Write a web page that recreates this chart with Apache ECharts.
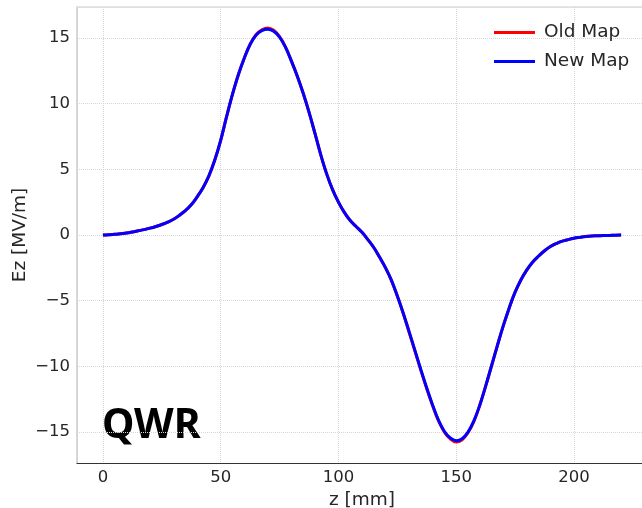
<!DOCTYPE html>
<html><head><meta charset="utf-8">
<script src="https://cdn.jsdelivr.net/npm/echarts@6/dist/echarts.min.js"></script>
<style>html,body{margin:0;padding:0;background:#fff}#c{width:642px;height:508px}</style>
</head><body><div id="c"></div>
<script>
const zValues = [0,2.5,5,7.5,10,12.5,15,17.5,20,22.5,25,27.5,30,32.5,35,37.5,40,42.5,45,47.5,50,52.5,55,57.5,60,62.5,65,67.5,70,72.5,75,77.5,80,82.5,85,87.5,90,92.5,95,97.5,100,102.5,105,107.5,110,112.5,115,117.5,120,122.5,125,127.5,130,132.5,135,137.5,140,142.5,145,147.5,150,152.5,155,157.5,160,162.5,165,167.5,170,172.5,175,177.5,180,182.5,185,187.5,190,192.5,195,197.5,200,202.5,205,207.5,210,212.5,215,217.5,220];
const newMap = [0,0.02,0.05,0.1,0.15,0.23,0.32,0.41,0.52,0.65,0.8,0.98,1.2,1.5,1.85,2.3,2.9,3.6,4.5,5.7,7.2,9.0,10.7,12.2,13.45,14.5,15.2,15.55,15.65,15.5,15.05,14.3,13.25,12.1,10.8,9.35,7.75,6.1,4.65,3.45,2.5,1.72,1.1,0.65,0.2,-0.35,-0.95,-1.7,-2.5,-3.45,-4.65,-5.95,-7.35,-8.8,-10.25,-11.65,-12.95,-14.1,-14.95,-15.45,-15.65,-15.5,-15.0,-14.15,-12.95,-11.5,-9.95,-8.4,-6.9,-5.55,-4.35,-3.4,-2.65,-2.05,-1.6,-1.2,-0.88,-0.65,-0.47,-0.35,-0.25,-0.18,-0.12,-0.08,-0.06,-0.04,-0.03,-0.01,0];
const oldMap = [0,0.02,0.05,0.1,0.15,0.23,0.32,0.41,0.52,0.65,0.8,0.98,1.2,1.5,1.85,2.3,2.9,3.6,4.5,5.7,7.2,9.0,10.7,12.2,13.45,14.52,15.25,15.62,15.76,15.58,15.1,14.32,13.25,12.1,10.8,9.35,7.75,6.1,4.65,3.45,2.5,1.72,1.1,0.65,0.2,-0.35,-0.95,-1.7,-2.5,-3.45,-4.65,-5.95,-7.4,-8.85,-10.3,-11.7,-13.0,-14.15,-15.0,-15.52,-15.76,-15.58,-15.05,-14.18,-12.95,-11.5,-9.95,-8.4,-6.9,-5.55,-4.35,-3.4,-2.65,-2.05,-1.6,-1.2,-0.88,-0.65,-0.47,-0.35,-0.25,-0.18,-0.12,-0.08,-0.06,-0.04,-0.03,-0.01,0];
const xTicks = [0,50,100,150,200];
const yTicks = [-15,-10,-5,0,5,10,15];
const seriesNames = ['Old Map','New Map'];
const annotation = 'QWR';

const chart = echarts.init(document.getElementById('c'), null, {renderer:'canvas'});
const font = 'DejaVu Sans';
const fmt = (ticks) => (v) => ticks.includes(Math.round(v*1000)/1000) && Math.abs(v - Math.round(v)) < 1e-6 ? String(Math.round(v)).replace('-', '\u2212') : '';
const pairs = (arr) => zValues.map((z,i) => [z, arr[i]]);

chart.setOption({
  animation: false,
  backgroundColor: '#fff',
  grid: {left: 77, right: -5, top: 7, bottom: 45, containLabel: false, outerBoundsMode: 'none'},
  legend: {
    orient: 'vertical', left: 489, top: 18, itemGap: 10,
    itemWidth: 41, itemHeight: 3,
    textStyle: {fontFamily: font, fontSize: 18.5, color: '#262626', padding: [0,0,0,4]},
    data: [{name: seriesNames[0], icon: 'rect'}, {name: seriesNames[1], icon: 'rect'}]
  },
  xAxis: [{
    type: 'value', min: -11, max: 231, splitNumber: 5,
    name: 'z [mm]', nameLocation: 'middle', nameGap: 24,
    nameTextStyle: {fontFamily: font, fontSize: 18.5, color: '#262626'},
    axisLine: {show: true, onZero: false, lineStyle: {color: '#333', width: 1.2}},
    axisTick: {show: false},
    axisLabel: {fontFamily: font, fontSize: 16.5, color: '#262626', margin: 6, formatter: fmt(xTicks)},
    splitLine: {show: true, lineStyle: {color: '#d6d6d6', type: 'dotted', width: 1}}
  }, {
    type: 'value', position: 'top', min: -11, max: 231,
    axisLine: {show: true, onZero: false, lineStyle: {color: '#dddddd', width: 1.5}},
    axisTick: {show: false}, axisLabel: {show: false}, splitLine: {show: false}
  }],
  yAxis: {
    type: 'value', min: -17.35, max: 17.35, splitNumber: 7,
    name: 'Ez [MV/m]', nameLocation: 'middle', nameGap: 47, nameMoveOverlap: false,
    nameTextStyle: {fontFamily: font, fontSize: 18.5, color: '#262626'},
    axisLine: {show: true, onZero: false, lineStyle: {color: '#cccccc', width: 1.5}},
    axisTick: {show: false},
    axisLabel: {fontFamily: font, fontSize: 16.5, color: '#262626', margin: 7, formatter: fmt(yTicks)},
    splitLine: {show: true, lineStyle: {color: '#d6d6d6', type: 'dotted', width: 1}}
  },
  series: [
    {name: seriesNames[0], type: 'line', data: pairs(oldMap), smooth: 0.4, showSymbol: false, xAxisIndex: 0,
     lineStyle: {color: '#ff0000', width: 3}, itemStyle: {color: '#ff0000'}},
    {name: seriesNames[1], type: 'line', data: pairs(newMap), smooth: 0.4, showSymbol: false, xAxisIndex: 0,
     lineStyle: {color: '#0000ff', width: 3}, itemStyle: {color: '#0000ff'}}
  ],
  graphic: [{
    type: 'text', x: 102, y: 426,
    style: {text: annotation, font: 'bold 41px "Noto Sans"', fill: '#000', textAlign: 'left', textVerticalAlign: 'middle'}
  }]
});
</script>
</body></html>
